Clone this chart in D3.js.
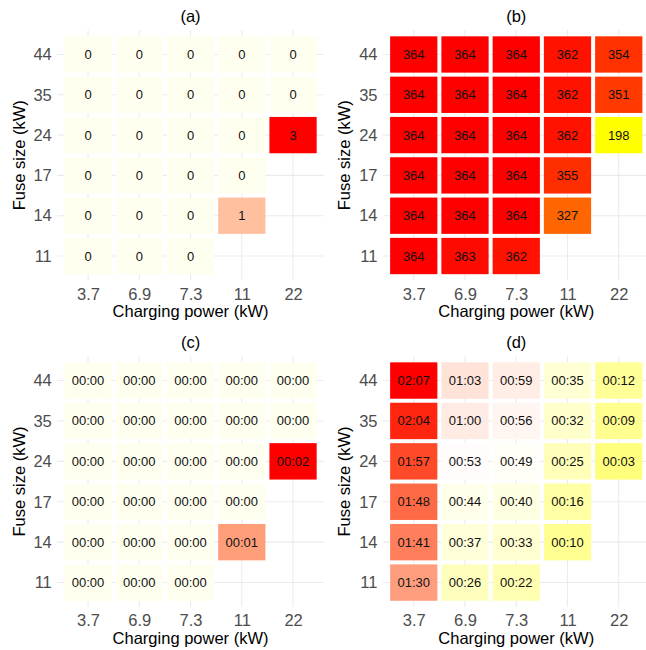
<!DOCTYPE html>
<html>
<head>
<meta charset="utf-8">
<script src="https://cdn.jsdelivr.net/npm/d3@7.9.0/dist/d3.min.js"></script>
<style>
  body { margin: 0; background: #fff; }
  svg { display: block; font-family: "Liberation Sans", Arial, sans-serif; }
</style>
</head>
<body>
<svg width="646" height="650"></svg>
<script>
// categories
const power = ['3.7', '6.9', '7.3', '11', '22'];
const fuse = ['44', '35', '24', '17', '14', '11'];

// values per fuse row (top to bottom), columns follow power; null = no tile
const valuesA = [
  [0, 0, 0, 0, 0],
  [0, 0, 0, 0, 0],
  [0, 0, 0, 0, 3],
  [0, 0, 0, 0, null],
  [0, 0, 0, 1, null],
  [0, 0, 0, null, null],
];
const valuesB = [
  [364, 364, 364, 362, 354],
  [364, 364, 364, 362, 351],
  [364, 364, 364, 362, 198],
  [364, 364, 364, 355, null],
  [364, 364, 364, 327, null],
  [364, 363, 362, null, null],
];
// minutes
const valuesC = [
  [0, 0, 0, 0, 0],
  [0, 0, 0, 0, 0],
  [0, 0, 0, 0, 2],
  [0, 0, 0, 0, null],
  [0, 0, 0, 1, null],
  [0, 0, 0, null, null],
];
const valuesD = [
  [127, 63, 59, 35, 12],
  [124, 60, 56, 32, 9],
  [117, 53, 49, 25, 3],
  [108, 44, 40, 16, null],
  [101, 37, 33, 10, null],
  [90, 26, 22, null, null],
];

const panelTitles = ['(a)', '(b)', '(c)', '(d)'];
const xTitle = 'Charging power (kW)';
const yTitle = 'Fuse size (kW)';

const svg = d3.select('svg');
const fs = 16.5;

function hhmm(m) {
  return String(Math.floor(m / 60)).padStart(2, '0') + ':' + String(m % 60).padStart(2, '0');
}

function toCells(rows) {
  let cells = [];
  rows.forEach((row, i) => {
    row.forEach((v, j) => {
      if (v !== null) cells.push({ fuse: fuse[i], power: power[j], value: v });
    });
  });
  return cells;
}

function seqColor(cells, low, high) {
  return d3.scaleLinear()
    .domain(d3.extent(cells, (d) => d.value))
    .range([low, high])
    .interpolate(d3.interpolateLab);
}

function divColor(cells) {
  let mid = d3.mean(cells, (d) => d.value);
  let [lo, hi] = d3.extent(cells, (d) => d.value);
  let dist = Math.max(mid - lo, hi - mid);
  return d3.scaleLinear()
    .domain([mid - dist, mid, mid + dist])
    .range(['yellow', 'white', 'red'])
    .interpolate(d3.interpolateLab);
}

function drawPanel(rows, box, title, color, fmt) {
  const cells = toCells(rows);
  const x = d3.scalePoint().domain(power).range([box.x0, box.x1]).padding(0.6);
  const y = d3.scalePoint().domain(fuse).range([box.y0, box.y1]).padding(0.6);
  const g = svg.append('g');

  // grid
  g.selectAll('.vgrid').data(power).join('line')
    .attr('x1', (d) => x(d)).attr('x2', (d) => x(d))
    .attr('y1', box.y0).attr('y2', box.y1)
    .attr('stroke', '#ebebeb').attr('stroke-width', 1.1);
  g.selectAll('.hgrid').data(fuse).join('line')
    .attr('class', 'hgrid')
    .attr('y1', (d) => y(d)).attr('y2', (d) => y(d))
    .attr('x1', box.x0).attr('x2', box.x1)
    .attr('stroke', '#ebebeb').attr('stroke-width', 1.1);

  // tiles
  const sx = x.step(), sy = y.step(), gap = 4;
  g.selectAll('rect').data(cells).join('rect')
    .attr('x', (d) => x(d.power) - sx / 2 + gap / 2)
    .attr('y', (d) => y(d.fuse) - sy / 2 + gap / 2)
    .attr('width', sx - gap)
    .attr('height', sy - gap)
    .attr('fill', (d) => color(d.value));

  g.selectAll('.lab').data(cells).join('text')
    .attr('x', (d) => x(d.power))
    .attr('y', (d) => y(d.fuse))
    .attr('dy', '0.35em')
    .attr('text-anchor', 'middle')
    .attr('font-size', 13)
    .attr('fill', '#111')
    .text((d) => fmt(d.value));

  // axes
  const ax = g.append('g')
    .attr('transform', `translate(0,${box.y1})`)
    .call(d3.axisBottom(x).tickSize(0).tickPadding(7.7));
  const ay = g.append('g')
    .attr('transform', `translate(${box.x0},0)`)
    .call(d3.axisLeft(y).tickSize(0).tickPadding(5.5));
  [ax, ay].forEach((a) => {
    a.select('.domain').remove();
    a.selectAll('text').attr('font-size', fs).attr('fill', '#4d4d4d')
      .attr('font-family', '"Liberation Sans", Arial, sans-serif');
  });

  // titles
  g.append('text')
    .attr('x', (box.x0 + box.x1) / 2).attr('y', box.y0 - 14)
    .attr('dy', '0.35em').attr('text-anchor', 'middle')
    .attr('font-size', fs).text(title);
  g.append('text')
    .attr('x', (box.x0 + box.x1) / 2).attr('y', box.y1 + 31.5)
    .attr('dy', '0.35em').attr('text-anchor', 'middle')
    .attr('font-size', fs).text(xTitle);
  g.append('text')
    .attr('transform', `translate(${box.x0 - 38.5},${(box.y0 + box.y1) / 2}) rotate(-90)`)
    .attr('dy', '0.35em').attr('text-anchor', 'middle')
    .attr('font-size', fs).text(yTitle);
}

const boxA = { x0: 57.3, x1: 323.8, y0: 30.3, y1: 280.2 };
const boxB = { x0: 383, x1: 649.5, y0: 30.3, y1: 280.2 };
const boxC = { x0: 57.3, x1: 323.8, y0: 356.3, y1: 606.8 };
const boxD = { x0: 383, x1: 649.5, y0: 356.3, y1: 606.8 };

drawPanel(valuesA, boxA, panelTitles[0], seqColor(toCells(valuesA), 'ivory', 'red'), (v) => String(v));
drawPanel(valuesB, boxB, panelTitles[1], seqColor(toCells(valuesB), 'yellow', 'red'), (v) => String(v));
drawPanel(valuesC, boxC, panelTitles[2], seqColor(toCells(valuesC), 'ivory', 'red'), hhmm);
drawPanel(valuesD, boxD, panelTitles[3], divColor(toCells(valuesD)), hhmm);
</script>
</body>
</html>
